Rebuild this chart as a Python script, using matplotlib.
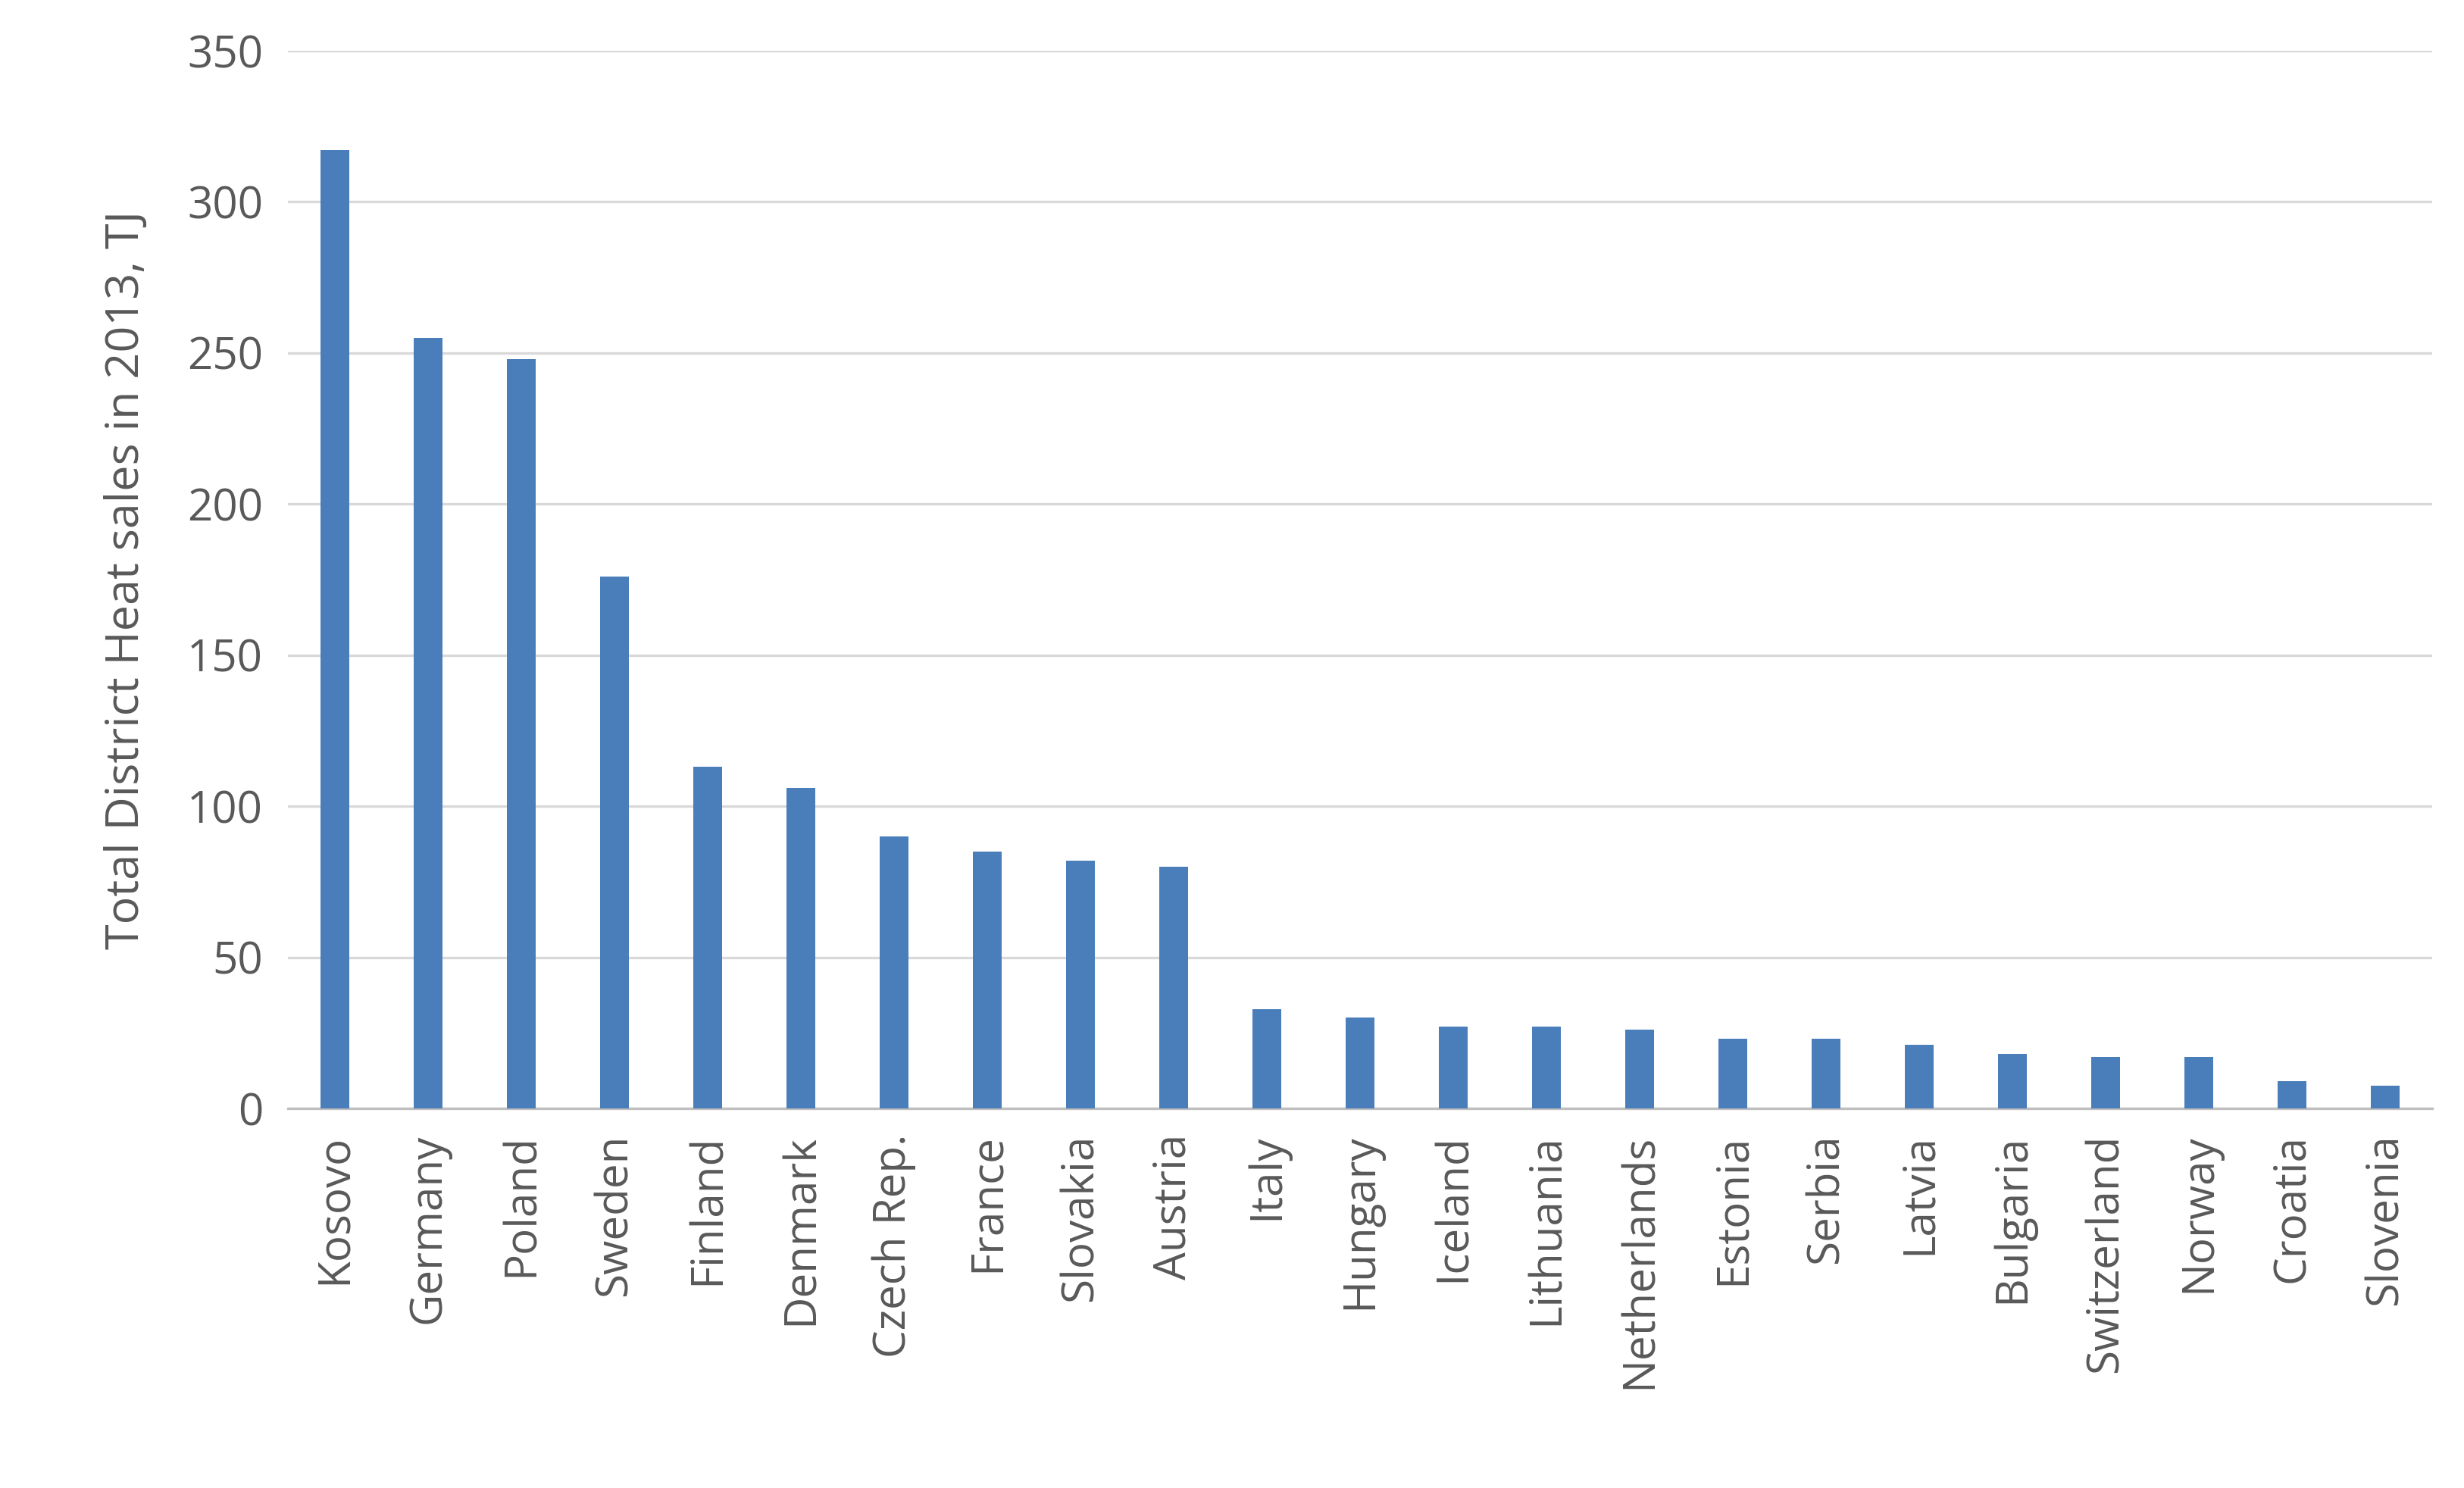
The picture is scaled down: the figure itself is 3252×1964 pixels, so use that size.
import matplotlib

matplotlib.use("Agg")
import matplotlib.pyplot as plt

countries = ["Kosovo", "Germany", "Poland", "Sweden", "Finland", "Denmark", "Czech Rep.",
             "France", "Slovakia", "Austria", "Italy", "Hungary", "Iceland", "Lithuania",
             "Netherlands", "Estonia", "Serbia", "Latvia", "Bulgaria", "Switzerland",
             "Norway", "Croatia", "Slovenia"]
sales = [317, 255, 248, 176, 113, 106, 90, 85, 82, 80, 33, 30, 27, 27, 26, 23, 23, 21,
         18, 17, 17, 9, 7.5]
yticks = [0, 50, 100, 150, 200, 250, 300, 350]

TEXT = "#595959"
plt.rcParams["font.family"] = ["Open Sans", "DejaVu Sans"]

fig = plt.figure(figsize=(16.26, 9.82), dpi=200)
ax = fig.add_axes([0.117, 0.255, 0.870, 0.711])
x = list(range(len(countries)))
ax.bar(x, sales, width=0.31, color="#4a7ebb", zorder=3)
ax.set_xlim(-0.5, len(countries) - 0.5)
ax.set_ylim(0, 350)
ax.set_yticks(yticks)
ax.set_xticks(x, countries, rotation=90)
ax.grid(axis="y", color="#d9d9d9", linewidth=1.2, zorder=0)
for side in ("top", "right", "left"):
    ax.spines[side].set_visible(False)
ax.spines["bottom"].set_color("#bfbfbf")
ax.spines["bottom"].set_linewidth(1.2)
ax.tick_params(axis="both", length=0, labelsize=21, colors=TEXT, pad=12)
ax.set_ylabel("Total District Heat sales in 2013, TJ", fontsize=22, color=TEXT, labelpad=18)

fig.savefig("out.png", dpi=200)
